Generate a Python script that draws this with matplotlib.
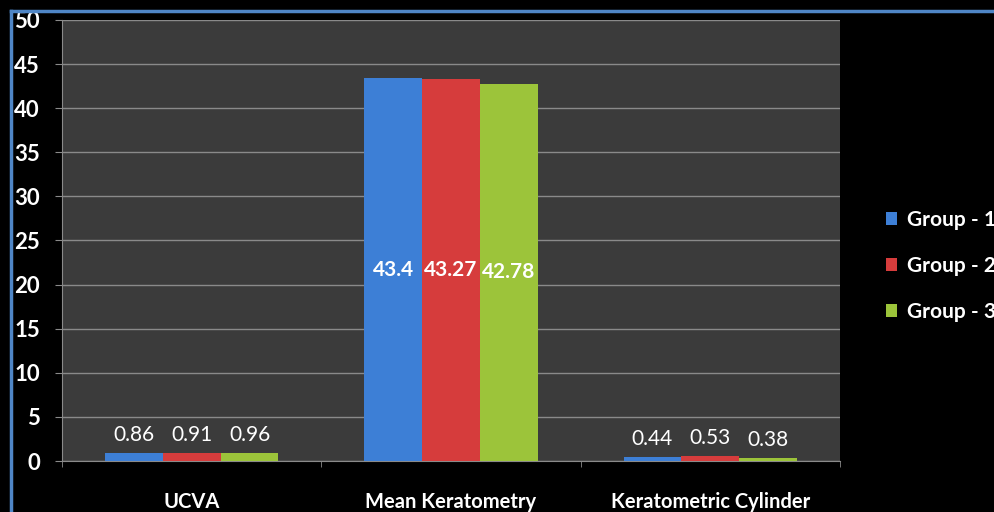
import matplotlib.pyplot as plt
import numpy as np
from matplotlib.lines import Line2D

categories = ['UCVA', 'Mean Keratometry', 'Keratometric Cylinder']
groups = ['Group - 1', 'Group - 2', 'Group - 3']
group1 = [0.86, 43.4, 0.44]
group2 = [0.91, 43.27, 0.53]
group3 = [0.96, 42.78, 0.38]
colors = ['#3d7fd6', '#d63c3c', '#9cc43a']

plt.rcParams['font.family'] = ['Lato', 'DejaVu Sans']

fig = plt.figure(figsize=(9.94, 5.12), dpi=100, facecolor='black')
ax = fig.add_axes([0.0624, 0.0996, 0.7826, 0.8614])
ax.set_facecolor('#3b3b3b')

x = np.arange(len(categories))
w = 0.223
series = [group1, group2, group3]
for i, (vals, c, g) in enumerate(zip(series, colors, groups)):
    pos = x + (i - 1) * w
    bars = ax.bar(pos, vals, w, color=c, label=g, zorder=3)
    for b, v in zip(bars, vals):
        if v > 5:
            ax.text(b.get_x() + b.get_width() / 2, v / 2, f'{v:g}', ha='center', va='center',
                    color='white', fontsize=15, fontweight='bold', zorder=4)
        else:
            ax.text(b.get_x() + b.get_width() / 2, v + 0.9, f'{v:g}', ha='center', va='bottom',
                    color='white', fontsize=15, zorder=4)

ax.set_xlim(-0.5, 2.5)
ax.set_ylim(0, 50)
ax.set_yticks(range(0, 51, 5))
ax.yaxis.grid(True, color='#8a8a8a', linewidth=1, zorder=0)
ax.set_xticks(x)
ax.set_xticklabels(categories, color='white', fontsize=14.5, fontweight='bold')
ax.tick_params(axis='x', length=0, pad=22)
ax.set_xticks([-0.5, 0.5, 1.5, 2.5], minor=True)
ax.tick_params(axis='x', which='minor', length=4, color='#8a8a8a', direction='out')
ax.tick_params(axis='y', colors='white', labelsize=16, length=5, color='#8a8a8a', pad=11)
for lbl in ax.get_yticklabels():
    lbl.set_fontweight('bold')
for s in ['top', 'right']:
    ax.spines[s].set_visible(False)
ax.spines['left'].set_color('#8a8a8a')
ax.spines['bottom'].set_color('#8a8a8a')

leg = ax.legend(loc='center left', bbox_to_anchor=(1.035, 0.442), frameon=False,
                fontsize=15, labelcolor='white', handlelength=0.55, handleheight=0.55,
                handletextpad=0.45, labelspacing=1.25)
for t in leg.get_texts():
    t.set_fontweight('bold')

# thin blue frame along the left and top edges
fig.add_artist(Line2D([11 / 994, 11 / 994], [0, 1 - 11 / 512], color='#4f86c6',
                      linewidth=2.5, transform=fig.transFigure))
fig.add_artist(Line2D([11 / 994, 1], [1 - 11 / 512, 1 - 11 / 512], color='#4f86c6',
                      linewidth=2.5, transform=fig.transFigure))

fig.savefig('out.png', dpi=100, facecolor='black')
